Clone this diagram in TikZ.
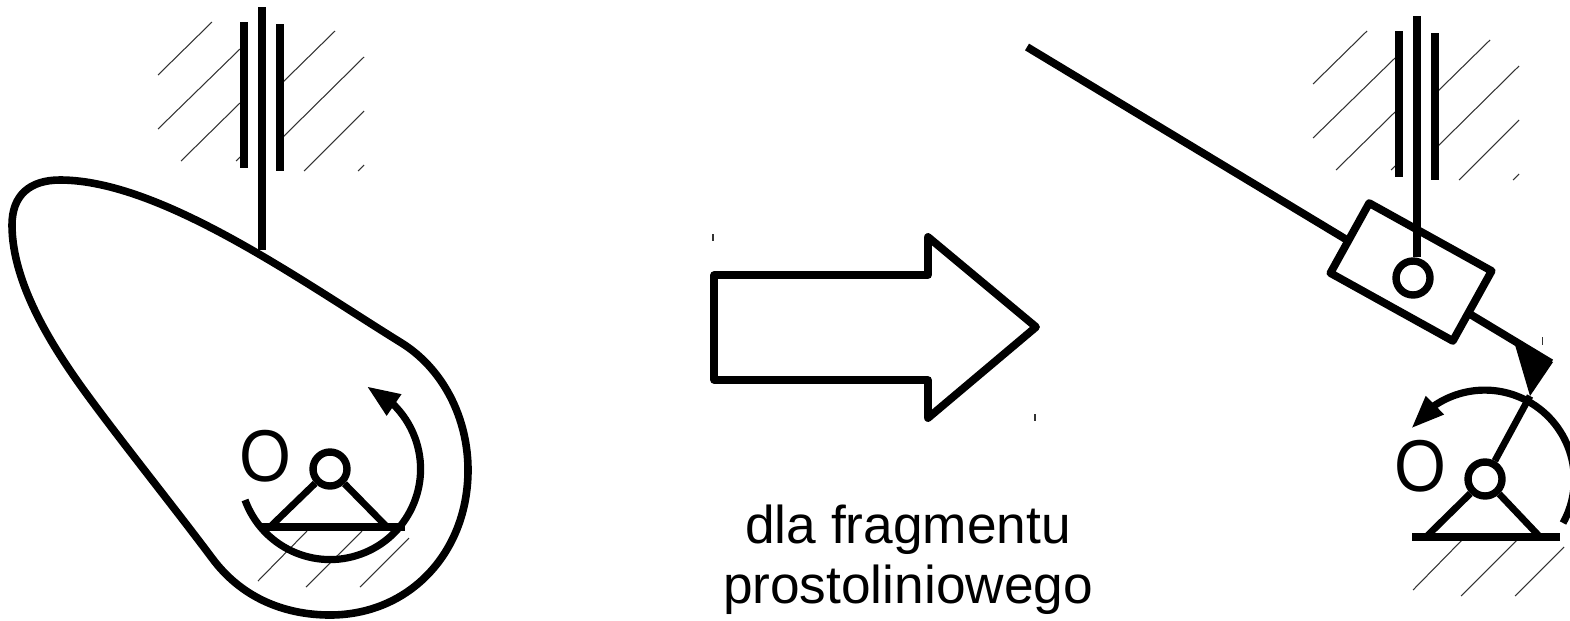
\documentclass[tikz,border=0pt]{standalone}
\usepackage{fontspec}
\setmainfont{Liberation Sans}
\usetikzlibrary{positioning,arrows.meta,bending}

\begin{document}
\begin{tikzpicture}[x=0.1mm, y=-0.1mm, line join=round,
    thick line/.style={line width=0.78mm},
    leg line/.style={line width=0.68mm},
    hatch line/.style={line width=0.3pt, black!80},
    pivot/.style={draw, circle, fill=white, line width=0.74mm, minimum size=3.4mm, inner sep=0pt},
    markO/.style={inner sep=0pt, yscale=1.1, font=\fontsize{19pt}{19pt}\selectfont},
    turn/.style={line width=0.72mm, -{Triangle[length=3.3mm, width=2.4mm]}}]
  \clip (0,0) rectangle (1570,620);

  % Hatching (same for both sketches)
  \foreach \dx/\dy in {0/0, 1155/9} {
    \begin{scope}[shift={(\dx,\dy)}]
      \draw[hatch line] (158,75) -- (212,22);
      \draw[hatch line] (158,129) -- (240,49);
      \draw[hatch line] (181,161) -- (240,103);
      \draw[hatch line] (236,161) -- (240,157);
      \draw[hatch line] (283,82) -- (335,31);
      \draw[hatch line] (283,137) -- (364,57);
      \draw[hatch line] (304,171) -- (364,111);
      \draw[hatch line] (358,171) -- (364,165);
      \draw[hatch line] (258,581) -- (307,531);
      \draw[hatch line] (306,587) -- (362,531);
      \draw[hatch line] (360,587) -- (409,538);
      % Guide bars
      \draw[thick line, line cap=butt] (244,22) -- (244,168);
      \draw[thick line, line cap=butt] (280,24) -- (280,171);
    \end{scope}
  }

  % Left sketch
  \draw[line width=0.76mm] (400,342) .. controls (443,368) and (468,418) .. (468,470)
    .. controls (468,552) and (410,615) .. (330,615)
    .. controls (282,615) and (240,596) .. (212,558)
    .. controls (170,502) and (120,440) .. (83,389)
    .. controls (55,350) and (12,285) .. (12,225)
    .. controls (12,195) and (30,180) .. (60,180)
    .. controls (160,180) and (300,280) .. (400,342) -- cycle;
  \coordinate (rodtopL) at (262,7);
  \coordinate (rodendL) at (262,250);
  \draw[thick line] (rodtopL) -- (rodendL);
  \node[pivot] (pivL) at (330,469) {};
  \coordinate (footLa) at (270,527);
  \coordinate (footLb) at (387,527);
  \coordinate (baseLa) at (261,527);
  \coordinate (baseLb) at (405,527);
  \node[markO, left=1.7mm of pivL, yshift=1.2mm] (markL) {O};
  \draw[leg line] (pivL) -- (footLa);
  \draw[leg line] (pivL) -- (footLb);
  \draw[thick line] (baseLa) -- (baseLb);
  \draw[turn] (245,500) arc[start angle=160, end angle=-66, radius=90.5];

  % Big arrow
  \draw[thick line] (714,275) -- (928,275) -- (928,237) -- (1036,327)
    -- (928,418) -- (928,380) -- (714,380) -- cycle;
  \draw[hatch line] (713,234) -- (713,241);
  \draw[hatch line] (1035,414) -- (1035,421);
  \node[align=center, font=\fontsize{15.15pt}{17.07pt}\selectfont] (note) at (908,560) {dla fragmentu\\prostoliniowego};

  % Right sketch
  \coordinate (armend) at (1027,47);
  \coordinate (armtip) at (1551,363);
  \draw[thick line] (armend) -- (armtip);
  \draw[hatch line] (1542,337) -- (1542,345);
  \node[draw, thick line, fill=white, rotate=-29, minimum width=14cm/10, minimum height=8cm/10, inner sep=0pt] (block) at (1411,272) {};
  \node[pivot] (pivS) at (1413,278) {};
  \coordinate (rodtopR) at (1417,16);
  \draw[thick line] (rodtopR) -- (rodtopR |- pivS.north);
  \fill (1515,345) -- (1553,362) -- (1530,396) -- cycle;
  \node[pivot] (pivR) at (1485,479) {};
  \coordinate (wedge) at (1530,396);
  \coordinate (footRa) at (1426,537);
  \coordinate (footRb) at (1540,537);
  \coordinate (baseRa) at (1412,537);
  \coordinate (baseRb) at (1560,537);
  \node[markO, left=1.7mm of pivR, yshift=1.2mm] (markR) {O};
  \draw[leg line] (pivR) -- (wedge);
  \draw[leg line] (pivR) -- (footRa);
  \draw[leg line] (pivR) -- (footRb);
  \draw[thick line] (baseRa) -- (baseRb);
  \draw[turn] (1563,523) arc[start angle=29, end angle=-145, radius=89.5];
\end{tikzpicture}
\end{document}
